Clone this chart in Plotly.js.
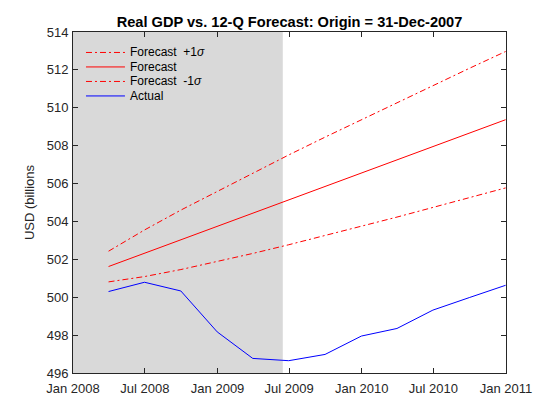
<!DOCTYPE html>
<html>
<head>
<meta charset="utf-8">
<script src="https://cdn.plot.ly/plotly-3.0.1.min.js"></script>
<style>html,body{margin:0;padding:0;background:#fff;}#chart{width:560px;height:420px;}</style>
</head>
<body>
<div id="chart"></div>
<script>
// Quarterly dates (end of quarter)
const dates = ['2008-03-31','2008-06-30','2008-09-30','2008-12-31','2009-03-31','2009-06-30',
               '2009-09-30','2009-12-31','2010-03-31','2010-06-30','2010-09-30','2010-12-31'];
const actual = [500.30, 500.79, 500.33, 498.17, 496.77, 496.65, 496.98, 497.95, 498.35, 499.32, 499.98, 500.63];
const forecast = [501.62, 502.32, 503.03, 503.73, 504.44, 505.14, 505.85, 506.55, 507.26, 507.96, 508.67, 509.37];
const forecastUp = [502.43, 503.55, 504.60, 505.59, 506.57, 507.51, 508.45, 509.37, 510.29, 511.18, 512.08, 512.97];
const forecastDn = [500.81, 501.09, 501.46, 501.87, 502.31, 502.77, 503.25, 503.73, 504.23, 504.74, 505.26, 505.77];
const recession = ['2007-12-01', '2009-06-15'];
const seriesNames = ['Forecast\u00a0\u00a0+1<i>σ</i>', 'Forecast', 'Forecast\u00a0\u00a0-1<i>σ</i>', 'Actual'];
const xTickVals = ['2008-01-01','2008-07-01','2009-01-01','2009-07-01','2010-01-01','2010-07-01','2011-01-01'];
const xTickText = ['Jan 2008','Jul 2008','Jan 2009','Jul 2009','Jan 2010','Jul 2010','Jan 2011'];
const yTicks = [496, 498, 500, 502, 504, 506, 508, 510, 512, 514];

const FONT = 'Liberation Sans, Arial, Helvetica, sans-serif';
const AX = '#262626';
const dd = '6px,3px,2px,3px';

const styles = [
  {color: 'red', width: 1, dash: dd},
  {color: 'red', width: 1},
  {color: 'red', width: 1, dash: dd},
  {color: 'blue', width: 1}
];
const seriesY = [forecastUp, forecast, forecastDn, actual];

const traces = seriesY.map((ys, i) => ({
  x: dates, y: ys, mode: 'lines', name: seriesNames[i], line: styles[i], showlegend: false
}));

// Legend drawn in paper coordinates (MATLAB-style compact legend, no box)
const legX0 = 0.030, legX1 = 0.120, legTx = 0.127, legTop = 0.940, legStep = 0.0425;
const layoutShapes = [{type: 'rect', xref: 'x', yref: 'paper', x0: recession[0], x1: recession[1], y0: 0, y1: 1,
                 fillcolor: '#d9d9d9', line: {width: 0}, layer: 'below'}];
const layoutAnnotations = [];
seriesNames.forEach((nm, i) => {
  const yy = legTop - i * legStep;
  layoutShapes.push({type: 'line', xref: 'paper', yref: 'paper', x0: legX0, x1: legX1, y0: yy, y1: yy,
               line: styles[i], layer: 'above'});
  layoutAnnotations.push({xref: 'paper', yref: 'paper', x: legTx, y: yy, xanchor: 'left', yanchor: 'middle',
                    text: nm, showarrow: false, font: {family: FONT, size: 12, color: '#000'}});
});

const layout = {
  width: 560, height: 420,
  margin: {l: 73, r: 54, t: 32, b: 47, pad: 0},
  paper_bgcolor: '#fff', plot_bgcolor: '#fff',
  font: {family: FONT, size: 13, color: AX},
  title: {text: '<b>Real GDP vs. 12-Q Forecast: Origin = 31-Dec-2007</b>', font: {family: FONT, size: 14.6, color: '#000'},
          x: 0.517, xanchor: 'center', y: 0.948, yanchor: 'middle'},
  showlegend: false,
  xaxis: {type: 'date', range: ['2008-01-01', '2011-01-01'], tickmode: 'array', tickvals: xTickVals, ticktext: xTickText,
          showgrid: false, zeroline: false, showline: true, mirror: 'allticks', linecolor: AX, linewidth: 1,
          ticks: 'inside', ticklen: 5, tickcolor: AX, ticklabelstandoff: 3, tickfont: {family: FONT, size: 13, color: AX}},
  yaxis: {range: [496, 514], tickmode: 'array', tickvals: yTicks, ticktext: yTicks.map(String),
          showgrid: false, zeroline: false, showline: true, mirror: 'allticks', linecolor: AX, linewidth: 1,
          ticks: 'inside', ticklen: 5, tickcolor: AX, ticklabelstandoff: 1, tickfont: {family: FONT, size: 13, color: AX},
          title: {text: 'USD (billions', font: {family: FONT, size: 13, color: AX}, standoff: 9}},
  shapes: layoutShapes,
  annotations: layoutAnnotations
};

Plotly.newPlot('chart', traces, layout, {staticPlot: true, displayModeBar: false});
</script>
</body>
</html>
